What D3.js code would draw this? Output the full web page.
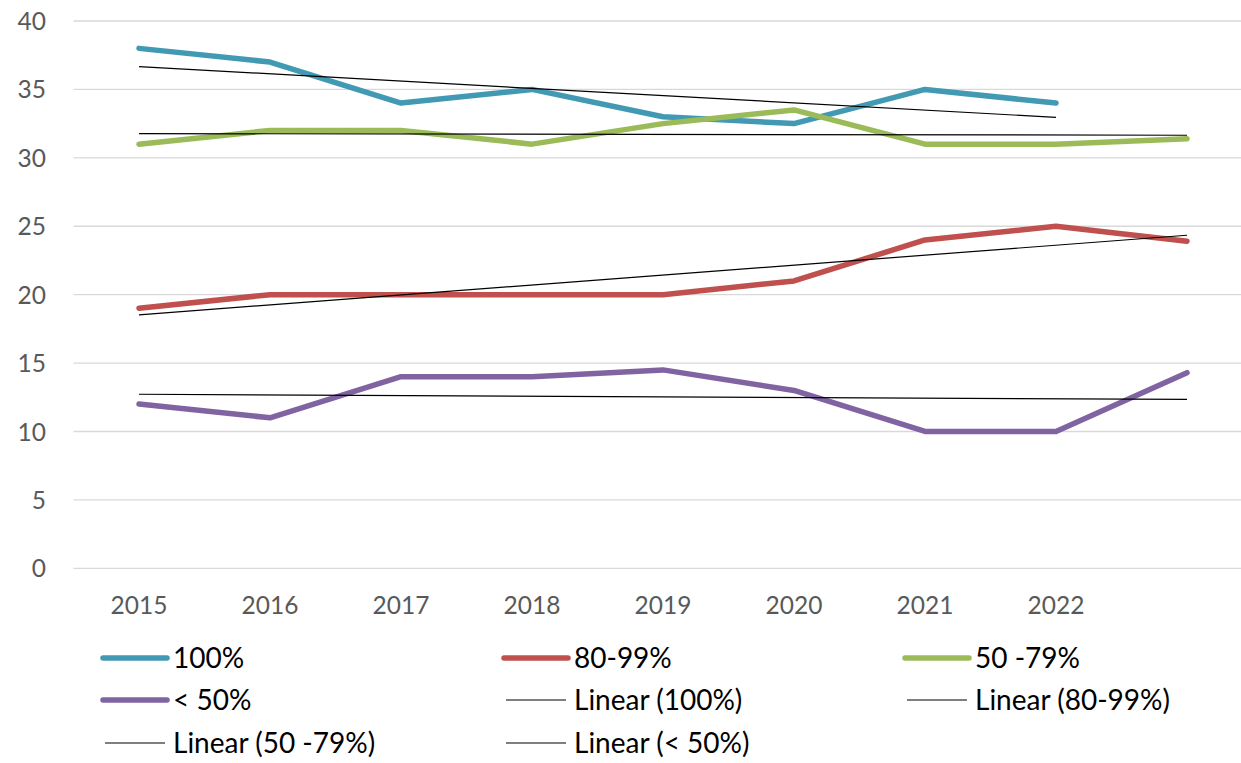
<!DOCTYPE html>
<html>
<head>
<meta charset="utf-8">
<script src="https://cdn.jsdelivr.net/npm/d3@7/dist/d3.min.js"></script>
<style>
  html, body { margin: 0; padding: 0; background: #fff; }
  svg { display: block; }
  text { font-family: Lato, "Open Sans", sans-serif; }
</style>
</head>
<body>
<svg id="chart" width="1241" height="763"></svg>
<script>
// ---- data ----
const categories = ["2015", "2016", "2017", "2018", "2019", "2020", "2021", "2022", ""];
const seriesNames = ["100%", "80-99%", "50 -79%", "< 50%"];
const values100 = [38, 37, 34, 35, 33, 32.5, 35, 34, null];
const values80_99 = [19, 20, 20, 20, 20, 21, 24, 25, 23.9];
const values50_79 = [31, 32, 32, 31, 32.5, 33.5, 31, 31, 31.4];
const valuesUnder50 = [12, 11, 14, 14, 14.5, 13, 10, 10, 14.3];
const yTicks = [0, 5, 10, 15, 20, 25, 30, 35, 40];
const seriesColors = ["#4299B3", "#C0504D", "#9BBB59", "#8064A2"];

const seriesValues = [values100, values80_99, values50_79, valuesUnder50];

// ---- layout ----
const svg = d3.select("#chart");
const plotLeft = 73.5, plotRight = 1252.5, plotTop = 21, plotBottom = 568.3;

const x = d3.scaleBand().domain(d3.range(categories.length)).range([plotLeft, plotRight]);
const xc = i => x(i) + x.bandwidth() / 2;
const y = d3.scaleLinear().domain([0, 40]).range([plotBottom, plotTop]);

// gridlines
svg.append("g").selectAll("line").data(yTicks).join("line")
  .attr("x1", plotLeft).attr("x2", plotRight)
  .attr("y1", d => y(d)).attr("y2", d => y(d))
  .attr("stroke", "#D9D9D9").attr("stroke-width", 1.3);

// y axis labels
const yAxis = d3.axisLeft(y).tickValues(yTicks).tickSize(0).tickPadding(0);
const gy = svg.append("g").attr("transform", `translate(46,0)`).call(yAxis);
gy.select(".domain").remove();
gy.selectAll("text").attr("fill", "#595959").style("font-size", "24.5px").attr("dy", "0.35em");

// x axis labels
const xAxis = d3.axisBottom(x).tickFormat(i => categories[i]).tickSize(0).tickPadding(0);
const gx = svg.append("g").attr("transform", `translate(0,${plotBottom + 29})`).call(xAxis);
gx.select(".domain").remove();
gx.selectAll("text").attr("fill", "#595959").style("font-size", "24.5px").attr("dy", "0.7em");

// series lines
const line = d3.line()
  .defined(d => d.v !== null)
  .x(d => xc(d.i)).y(d => y(d.v));

seriesValues.forEach((vals, s) => {
  const pts = vals.map((v, i) => ({ i, v }));
  svg.append("path").datum(pts)
    .attr("d", line)
    .attr("fill", "none")
    .attr("stroke", seriesColors[s])
    .attr("stroke-width", 5.5)
    .attr("stroke-linejoin", "round")
    .attr("stroke-linecap", "round");
});

// linear trendlines (least squares over available points)
function trend(vals) {
  const pts = vals.map((v, i) => ({ i, v })).filter(d => d.v !== null);
  const mx = d3.mean(pts, d => d.i), my = d3.mean(pts, d => d.v);
  const sxy = d3.sum(pts, d => (d.i - mx) * (d.v - my));
  const sxx = d3.sum(pts, d => (d.i - mx) * (d.i - mx));
  const b = sxy / sxx, a = my - b * mx;
  const i0 = pts[0].i, i1 = pts[pts.length - 1].i;
  return [{ i: i0, v: a + b * i0 }, { i: i1, v: a + b * i1 }];
}
seriesValues.forEach(vals => {
  svg.append("path").datum(trend(vals))
    .attr("d", line)
    .attr("fill", "none")
    .attr("stroke", "#000")
    .attr("stroke-width", 1.2);
});

// legend
const legendItems = [
  { label: "100%", color: seriesColors[0], thick: true },
  { label: "80-99%", color: seriesColors[1], thick: true },
  { label: "50 -79%", color: seriesColors[2], thick: true },
  { label: "< 50%", color: seriesColors[3], thick: true },
  { label: "Linear (100%)", color: "#000", thick: false },
  { label: "Linear (80-99%)", color: "#000", thick: false },
  { label: "Linear (50 -79%)", color: "#000", thick: false },
  { label: "Linear (< 50%)", color: "#000", thick: false }
];
const colX = [103, 504, 905];
const rowY = [658, 700, 743];
const lg = svg.append("g");
legendItems.forEach((it, k) => {
  const cx = colX[k % 3], cy = rowY[Math.floor(k / 3)];
  lg.append("line")
    .attr("x1", it.thick ? cx : cx + 2).attr("x2", it.thick ? cx + 64 : cx + 62)
    .attr("y1", cy).attr("y2", cy)
    .attr("stroke", it.color)
    .attr("stroke-width", it.thick ? 5.5 : 1.2)
    .attr("stroke-linecap", it.thick ? "round" : "butt");
  lg.append("text")
    .attr("x", cx + 70).attr("y", cy).attr("dy", "0.35em")
    .attr("fill", "#000").style("font-size", "28px")
    .text(it.label);
});
</script>
</body>
</html>
